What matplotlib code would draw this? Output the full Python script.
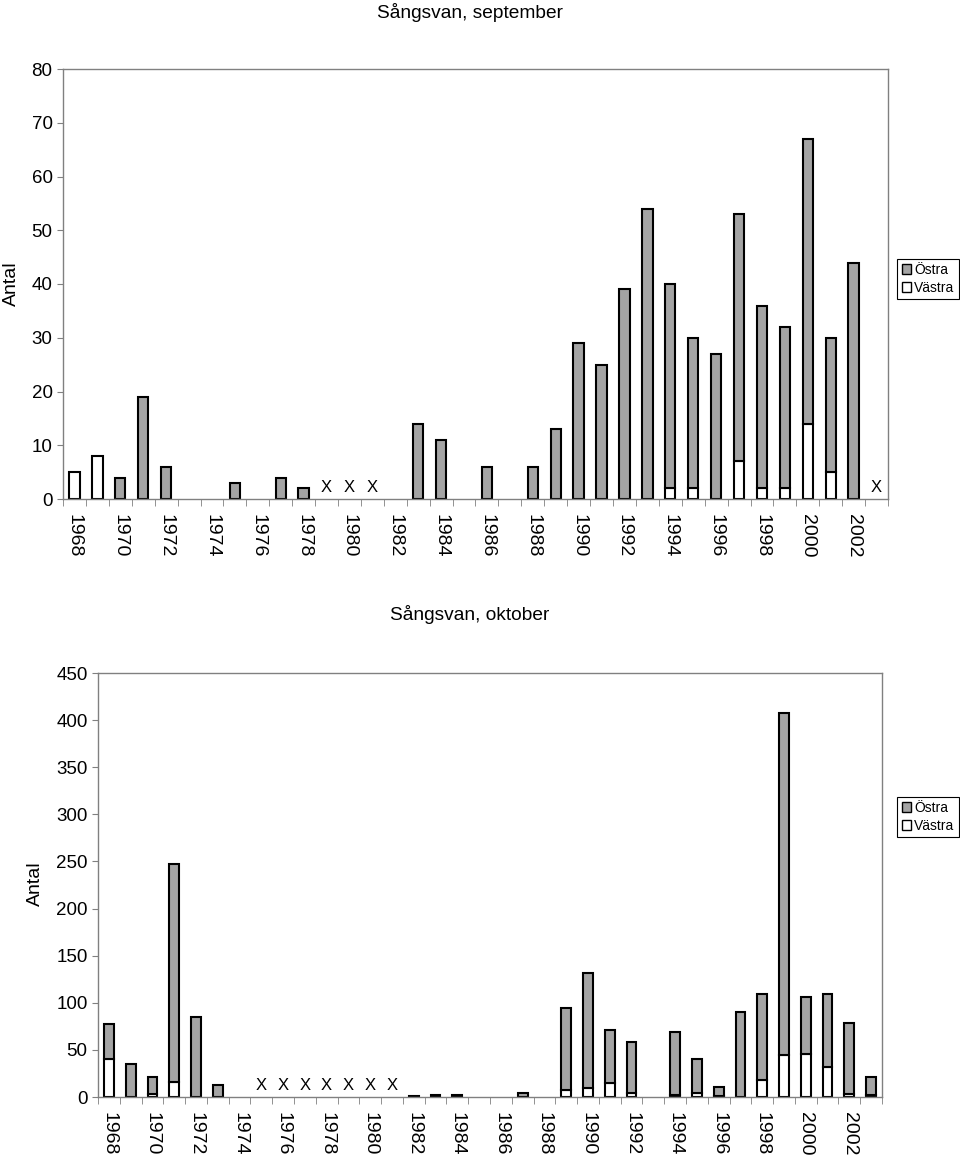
import numpy as np
import matplotlib
matplotlib.use('Agg')
import matplotlib.pyplot as plt
from matplotlib.patches import Patch

plt.rcParams['font.family'] = ['Liberation Sans', 'DejaVu Sans']

years = list(range(1968, 2004))
year_labels = [str(y) for y in range(1968, 2003, 2)]

# september
sep_vastra = [5, 8, 0, 0, 0, 0, 0, 0, 0, 0, 0, 0, 0, 0, 0, 0, 0, 0,
              0, 0, 0, 0, 0, 0, 0, 0, 2, 2, 0, 7, 2, 2, 14, 5, 0, 0]
sep_ostra = [0, 0, 4, 19, 6, 0, 0, 3, 0, 4, 2, 0, 0, 0, 0, 14, 11, 0,
             6, 0, 6, 13, 29, 25, 39, 54, 38, 28, 27, 46, 34, 30, 53, 25, 44, 0]
sep_missing = [1979, 1980, 1981, 2003]

# oktober
okt_vastra = [40, 0, 3, 16, 0, 0, 0, 0, 0, 0, 0, 0, 0, 0, 0, 0, 0, 0,
              0, 0, 0, 7, 10, 15, 4, 0, 2, 4, 1, 0, 18, 45, 46, 32, 3, 2]
okt_ostra = [37, 35, 18, 231, 85, 13, 0, 0, 0, 0, 0, 0, 0, 0, 1, 2, 2, 0,
             0, 4, 0, 87, 122, 56, 54, 0, 67, 36, 10, 90, 91, 363, 60, 77, 76, 19]
okt_missing = [1975, 1976, 1977, 1978, 1979, 1980, 1981]

GREY = '#a4a4a4'
AXC = '#808080'


def draw(ax, vastra, ostra, missing, ymax, ystep):
    x = np.arange(len(years))
    v = np.array(vastra, dtype=float)
    o = np.array(ostra, dtype=float)
    mv = v > 0
    mo = o > 0
    ax.bar(x[mv], v[mv], width=0.45, color='white', edgecolor='black', linewidth=1.5)
    ax.bar(x[mo], o[mo], bottom=v[mo], width=0.45, color=GREY, edgecolor='black', linewidth=1.5)
    for yr in missing:
        ax.annotate('X', xy=(years.index(yr), 0), xytext=(0, 4), textcoords='offset pixels',
                    ha='center', va='bottom', fontsize=12)
    ax.set_xlim(-0.5, len(years) - 0.5)
    ax.set_ylim(0, ymax)
    ax.set_yticks(np.arange(0, ymax + 1, ystep))
    ax.set_xticks([years.index(int(s)) for s in year_labels])
    ax.set_xticklabels(year_labels, rotation=270, fontsize=14)
    ax.set_xticks(np.arange(-0.5, len(years), 1), minor=True)
    ax.tick_params(axis='x', which='major', length=0, pad=11)
    ax.tick_params(axis='x', which='minor', length=5, color=AXC)
    ax.tick_params(axis='y', length=4, color=AXC, labelsize=13.5)
    for s in ax.spines.values():
        s.set_color(AXC)
        s.set_linewidth(1.0)


fig = plt.figure(figsize=(9.6, 11.55), dpi=100)
ax1 = fig.add_axes([63 / 960, 1 - 499 / 1155, 825 / 960, 430 / 1155])
ax2 = fig.add_axes([98 / 960, 1 - 1097 / 1155, 784 / 960, 424 / 1155])

draw(ax1, sep_vastra, sep_ostra, sep_missing, 80, 10)
draw(ax2, okt_vastra, okt_ostra, okt_missing, 450, 50)

fig.text(470 / 960, 1 - 12 / 1155, 'Sångsvan, september', ha='center', va='center', fontsize=13.8)
fig.text(470 / 960, 1 - 614 / 1155, 'Sångsvan, oktober', ha='center', va='center', fontsize=13.8)
fig.text(11 / 960, 1 - 284 / 1155, 'Antal', ha='center', va='center', rotation=90, fontsize=14)
fig.text(35 / 960, 1 - 884 / 1155, 'Antal', ha='center', va='center', rotation=90, fontsize=14)

handles = [Patch(facecolor=GREY, edgecolor='black'), Patch(facecolor='white', edgecolor='black')]
for yc in (279, 817):
    leg = fig.legend(handles, ['Östra', 'Västra'], loc='center',
                     bbox_to_anchor=(928 / 960, 1 - yc / 1155), fontsize=10,
                     handlelength=0.7, handleheight=0.7, handletextpad=0.2,
                     borderpad=0.3, labelspacing=0.3, fancybox=False, framealpha=1)
    leg.get_frame().set_edgecolor('black')
    leg.get_frame().set_linewidth(0.8)

fig.savefig('out.png', dpi=100)
